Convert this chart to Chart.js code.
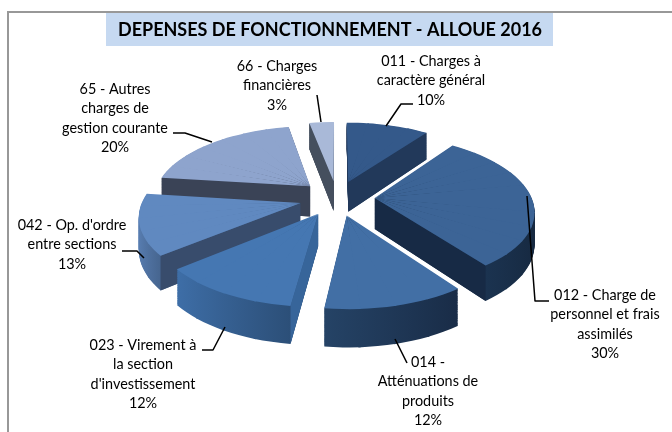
<!DOCTYPE html>
<html><head><meta charset="utf-8">
<style>html,body{margin:0;padding:0;background:#fff}#w{width:672px;height:432px}</style>
<script src="https://cdn.jsdelivr.net/npm/chart.js@4"></script></head>
<body><div id="w"><canvas id="c"></canvas></div>
<script>
const chartTitle = 'DEPENSES DE FONCTIONNEMENT - ALLOUE 2016';
const categories = [
  ['011 - Charges à','caractère général'],
  ['012 - Charge de','personnel et frais','assimilés'],
  ['014 -','Atténuations de','produits'],
  ['023 - Virement à','la section',"d'investissement"],
  ["042 - Op. d'ordre",'entre sections'],
  ['65 - Autres','charges de','gestion courante'],
  ['66 - Charges','financières']
];
const values = [10,30,12,12,13,20,3];
const topColors = ['#34598a','#3c6496','#426fa5','#4577b2','#6089c0','#8ea4cd','#a9b9d8'];
const rimLeft  = ['#22395a','#1b3350','#254366','#3e6ea7','#5a80b5','#3a4356','#454f5e'];
const rimRight = ['#22395a','#16283f','#192c47','#2c4f78','#46658f','#3a4356','#454f5e'];
const faceColors = ['#22395a','#172a45','#1d3352','#37659a','#384c6c','#3a4356','#454f5e'];

// camera of the tilted, exploded pie
const view = {cx:337, cy:198, rx:157, ry:73, persp:0.155, depth:31, explode:0.24};
// label boxes: centre x, first-line y
const labelPos = [[431,61],[605,295],[428,362],[143,345],[72,225],[115,89],[277,66]];
const lineGap = 19.6;
const leaders = [
  [[413,104],[401,104],[386,126]],
  [[527,196],[535,301],[549,301]],
  [[395,339],[407,363]],
  [[225,327],[213,350],[202,350]],
  [[122,251],[137,251],[144,258]],
  [[212,142],[185,133],[173,133]],
  [[317,95],[321,122]]
];

function project(u,v,t){
  const s = 1/(1-view.persp*v);
  return [view.cx+view.rx*u*s, view.cy+view.ry*v*s+view.depth*s*t];
}
function shim(arc,fill,a0,a1){
  const o = Object.create(arc);
  o.startAngle=a0;o.endAngle=a1;o.circumference=a1-a0;
  o.options = {backgroundColor:fill,borderColor:fill,borderWidth:0,offset:0,spacing:0,
    borderAlign:'center',borderRadius:0,circular:true,borderJoinStyle:'round',borderDash:[],borderDashOffset:0};
  return o;
}
function drawWedge(ctx,arc,fill,t,a0,a1,lo,hi,extra){
  const mid=(arc.startAngle+arc.endAngle)/2,e=view.explode;
  const ou=Math.cos(mid)*e, ov=Math.sin(mid)*e;
  const P0=project(ou,ov,t),
        P1=project(ou+Math.cos(a0),ov+Math.sin(a0),t),
        P2=project(ou+Math.cos(a1),ov+Math.sin(a1),t);
  const R=arc.outerRadius;
  const e1=[R*Math.cos(a0),R*Math.sin(a0)], e2=[R*Math.cos(a1),R*Math.sin(a1)];
  const det=e1[0]*e2[1]-e1[1]*e2[0];
  const f1=[P1[0]-P0[0],P1[1]-P0[1]], f2=[P2[0]-P0[0],P2[1]-P0[1]];
  const a=(f1[0]*e2[1]-f2[0]*e1[1])/det, c=(f2[0]*e1[0]-f1[0]*e2[0])/det;
  const b=(f1[1]*e2[1]-f2[1]*e1[1])/det, d=(f2[1]*e1[0]-f1[1]*e2[0])/det;
  ctx.save();
  ctx.transform(a,b,c,d,P0[0]-a*arc.x-c*arc.y,P0[1]-b*arc.x-d*arc.y);
  let fs=fill;
  if(Array.isArray(fill)){
    fs=ctx.createLinearGradient(arc.x+lo*R,0,arc.x+hi*R,0);
    fs.addColorStop(0,fill[0]);fs.addColorStop(1,fill[1]);
  }
  shim(arc,fs,a0,a1+extra).draw(ctx);
  ctx.restore();
}
function drawMapped(ctx,arc,fill,t){
  const a0=arc.startAngle,a1=arc.endAngle,R=arc.outerRadius;
  let lo=1,hi=-1;
  for(let i=0;i<=24;i++){const x=Math.cos(a0+(a1-a0)*i/24);lo=Math.min(lo,x);hi=Math.max(hi,x);}
  const n=Math.max(1,Math.ceil((a1-a0)/0.2));
  for(let i=0;i<n;i++){
    const s0=a0+(a1-a0)*i/n,s1=a0+(a1-a0)*(i+1)/n;
    drawWedge(ctx,arc,fill,t,s0,s1,lo,hi,i<n-1?0.012:0);
  }
}
function drawFace(ctx,arc,color){
  const a0=arc.startAngle,a1=arc.endAngle,mid=(a0+a1)/2,e=view.explode;
  const ou=Math.cos(mid)*e, ov=Math.sin(mid)*e;
  [a0,a1].forEach((ang,idx)=>{
    const ru=ou+Math.cos(ang), rv=ov+Math.sin(ang);
    const A=project(ou,ov,0),B=project(ru,rv,0),C=project(ru,rv,1),D=project(ou,ov,1);
    const dx=B[0]-A[0];
    if((idx===0&&dx<0)||(idx===1&&dx>0)){
      ctx.fillStyle=color;ctx.beginPath();
      ctx.moveTo(A[0],A[1]);ctx.lineTo(B[0],B[1]);ctx.lineTo(C[0],C[1]);ctx.lineTo(D[0],D[1]);
      ctx.closePath();ctx.fill();
    }
  });
}
const pie3d = {
  id:'pie3d',
  beforeDraw(chart){
    const ctx=chart.ctx;
    ctx.save();
    ctx.fillStyle='#fff';ctx.fillRect(0,0,672,432);
    ctx.fillStyle='#c6d9f1';ctx.fillRect(106,13,447,33);
    ctx.strokeStyle='#989898';ctx.lineWidth=2;
    ctx.beginPath();ctx.moveTo(8,432);ctx.lineTo(8,12);ctx.lineTo(672,12);ctx.stroke();
    ctx.restore();
  },
  beforeDatasetsDraw(chart){
    const ctx=chart.ctx, arcs=chart.getDatasetMeta(0).data;
    const order=arcs.map((a,i)=>i).sort((i,j)=>
      Math.sin((arcs[i].startAngle+arcs[i].endAngle)/2)-Math.sin((arcs[j].startAngle+arcs[j].endAngle)/2));
    order.forEach(i=>{
      const arc=arcs[i], steps=Math.ceil(view.depth*1.3);
      for(let k=steps;k>0;k--) drawMapped(ctx,arc,[rimLeft[i],rimRight[i]],k/steps);
      drawFace(ctx,arc,faceColors[i]);
      drawMapped(ctx,arc,topColors[i],0);
    });
    return false;
  },
  afterDraw(chart){
    const ctx=chart.ctx;
    ctx.save();
    ctx.strokeStyle='#000';ctx.lineWidth=1.5;ctx.lineJoin='round';
    leaders.forEach(l=>{ctx.beginPath();l.forEach((p,i)=>i?ctx.lineTo(p[0],p[1]):ctx.moveTo(p[0],p[1]));ctx.stroke();});
    ctx.fillStyle='#000';ctx.font='14.4px Lato';ctx.textAlign='center';ctx.textBaseline='middle';
    categories.forEach((lines,i)=>{
      const [x,y]=labelPos[i];
      lines.concat([values[i]+'%']).forEach((t,k)=>ctx.fillText(t,x,y+k*lineGap));
    });
    ctx.restore();
  }
};
new Chart(document.getElementById('c'),{
  type:'pie',
  data:{labels:categories.map(c=>c.join(' ')),datasets:[{data:values,backgroundColor:topColors,borderWidth:0}]},
  options:{
    responsive:true,maintainAspectRatio:false,animation:false,events:[],
    rotation:0,radius:100,
    layout:{padding:{right:12,top:19}},
    plugins:{legend:{display:false},tooltip:{enabled:false},
      title:{display:true,text:chartTitle,color:'#000',font:{family:'Lato',size:18,weight:'bold'},padding:0}}
  },
  plugins:[pie3d]
});
</script></body></html>
